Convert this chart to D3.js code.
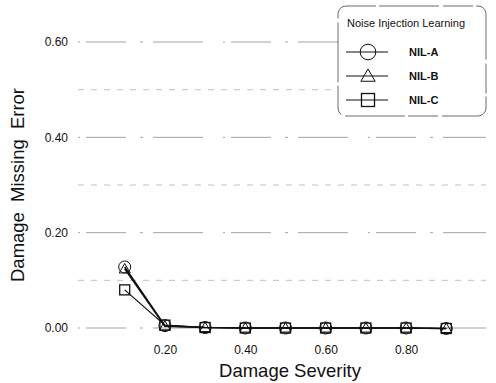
<!DOCTYPE html>
<html>
<head>
<meta charset="utf-8">
<script src="https://cdn.jsdelivr.net/npm/d3@7"></script>
<style>
  body { margin: 0; background: #fff; }
  svg { display: block; font-family: "Liberation Sans", Arial, sans-serif; }
</style>
</head>
<body>
<svg id="viz" width="496" height="383"></svg>
<script>
// damage severity on x, damage missing error on y
const severity = [0.1, 0.2, 0.3, 0.4, 0.5, 0.6, 0.7, 0.8, 0.9];
const nilA = [0.128, 0.005, 0.001, 0.0, 0.0, 0.0, 0.0, 0.0, -0.001];
const nilB = [0.124, 0.004, 0.001, 0.0, 0.0, 0.0, 0.0, 0.0, -0.001];
const nilC = [0.080, 0.006, 0.001, 0.0, 0.0, 0.0, 0.0, 0.0, -0.001];
const seriesNames = ["NIL-A", "NIL-B", "NIL-C"];
const markers = ["circle", "triangle", "square"];
const yTicks = [0.0, 0.2, 0.4, 0.6];
const yGrid = [0.0, 0.1, 0.2, 0.3, 0.4, 0.5, 0.6];
const xTicks = [0.2, 0.4, 0.6, 0.8];

const svg = d3.select("#viz");
const x = d3.scaleLinear().domain([0, 1]).range([84.5, 486.5]);
const y = d3.scaleLinear().domain([0, 0.6]).range([328, 42]);

// broken-looking grid
svg.append("g").selectAll("line").data(yGrid).join("line")
  .attr("x1", 78).attr("x2", 486)
  .attr("y1", d => y(d)).attr("y2", d => y(d))
  .attr("stroke", d => Math.round(d * 10) % 2 === 0 ? "#999" : "#bbb")
  .attr("stroke-width", 0.9)
  .attr("stroke-dasharray", d => Math.round(d * 10) % 2 === 0 ? "2,6,40,14,3,10,50,20" : "6,7");

const yAxis = d3.axisLeft(y).tickValues(yTicks).tickFormat(d3.format(".2f")).tickSize(0).tickPadding(0);
svg.append("g").attr("transform", "translate(68,0)").call(yAxis)
  .call(g => g.select(".domain").remove())
  .selectAll("text").attr("font-size", 12).attr("fill", "#111").attr("font-family", "Liberation Sans, Arial, sans-serif");

const xAxis = d3.axisBottom(x).tickValues(xTicks).tickFormat(d3.format(".2f")).tickSize(0).tickPadding(0);
svg.append("g").attr("transform", "translate(0,345)").call(xAxis)
  .call(g => g.select(".domain").remove())
  .selectAll("text").attr("font-size", 12).attr("fill", "#111").attr("font-family", "Liberation Sans, Arial, sans-serif");

svg.append("text").attr("x", 290).attr("y", 377).attr("text-anchor", "middle")
  .attr("font-size", 18.5).attr("fill", "#111").text("Damage Severity");
svg.append("text").attr("transform", "translate(24,185) rotate(-90)").attr("text-anchor", "middle")
  .attr("font-size", 18.5).attr("fill", "#111").attr("word-spacing", 5).text("Damage  Missing  Error");

function drawMarker(g, kind, cx, cy, s) {
  if (kind === "circle") {
    g.append("circle").attr("cx", cx).attr("cy", cy).attr("r", s * 0.6)
      .attr("fill", "none").attr("stroke", "#111").attr("stroke-width", 1);
  } else if (kind === "triangle") {
    const h = s * 0.9;
    g.append("path").attr("d", `M${cx},${cy - h * 0.6}L${cx + s * 0.55},${cy + h * 0.45}L${cx - s * 0.55},${cy + h * 0.45}Z`)
      .attr("fill", "none").attr("stroke", "#111").attr("stroke-width", 1);
  } else {
    g.append("rect").attr("x", cx - s / 2).attr("y", cy - s / 2).attr("width", s).attr("height", s)
      .attr("fill", "none").attr("stroke", "#111").attr("stroke-width", 1.3);
  }
}

const allSeries = [nilA, nilB, nilC];
const line = d3.line().x((d, i) => x(severity[i])).y(d => y(d));
allSeries.forEach((vals, k) => {
  const g = svg.append("g");
  g.append("path").datum(vals).attr("d", line)
    .attr("fill", "none").attr("stroke", "#111").attr("stroke-width", k === 2 ? 1.2 : 1.6);
  vals.forEach((v, i) => drawMarker(g, markers[k], x(severity[i]), y(v), 10));
});

// legend
const lg = svg.append("g");
lg.append("rect").attr("x", 338).attr("y", 6).attr("width", 148).attr("height", 110).attr("rx", 8)
  .attr("fill", "#fff").attr("stroke", "#444").attr("stroke-width", 0.8).attr("stroke-dasharray", "30,3,60,4");
lg.append("text").attr("x", 347).attr("y", 27).attr("font-size", 11).attr("fill", "#111").text("Noise Injection Learning");
seriesNames.forEach((name, k) => {
  const ly = 52 + k * 24;
  lg.append("line").attr("x1", 346).attr("x2", 388).attr("y1", ly).attr("y2", ly)
    .attr("stroke", "#111").attr("stroke-width", 1);
  drawMarker(lg, markers[k], 368, ly, 13);
  lg.append("text").attr("x", 409).attr("y", ly + 4).attr("font-size", 11).attr("font-weight", "bold")
    .attr("fill", "#111").text(name);
});
</script>
</body>
</html>
